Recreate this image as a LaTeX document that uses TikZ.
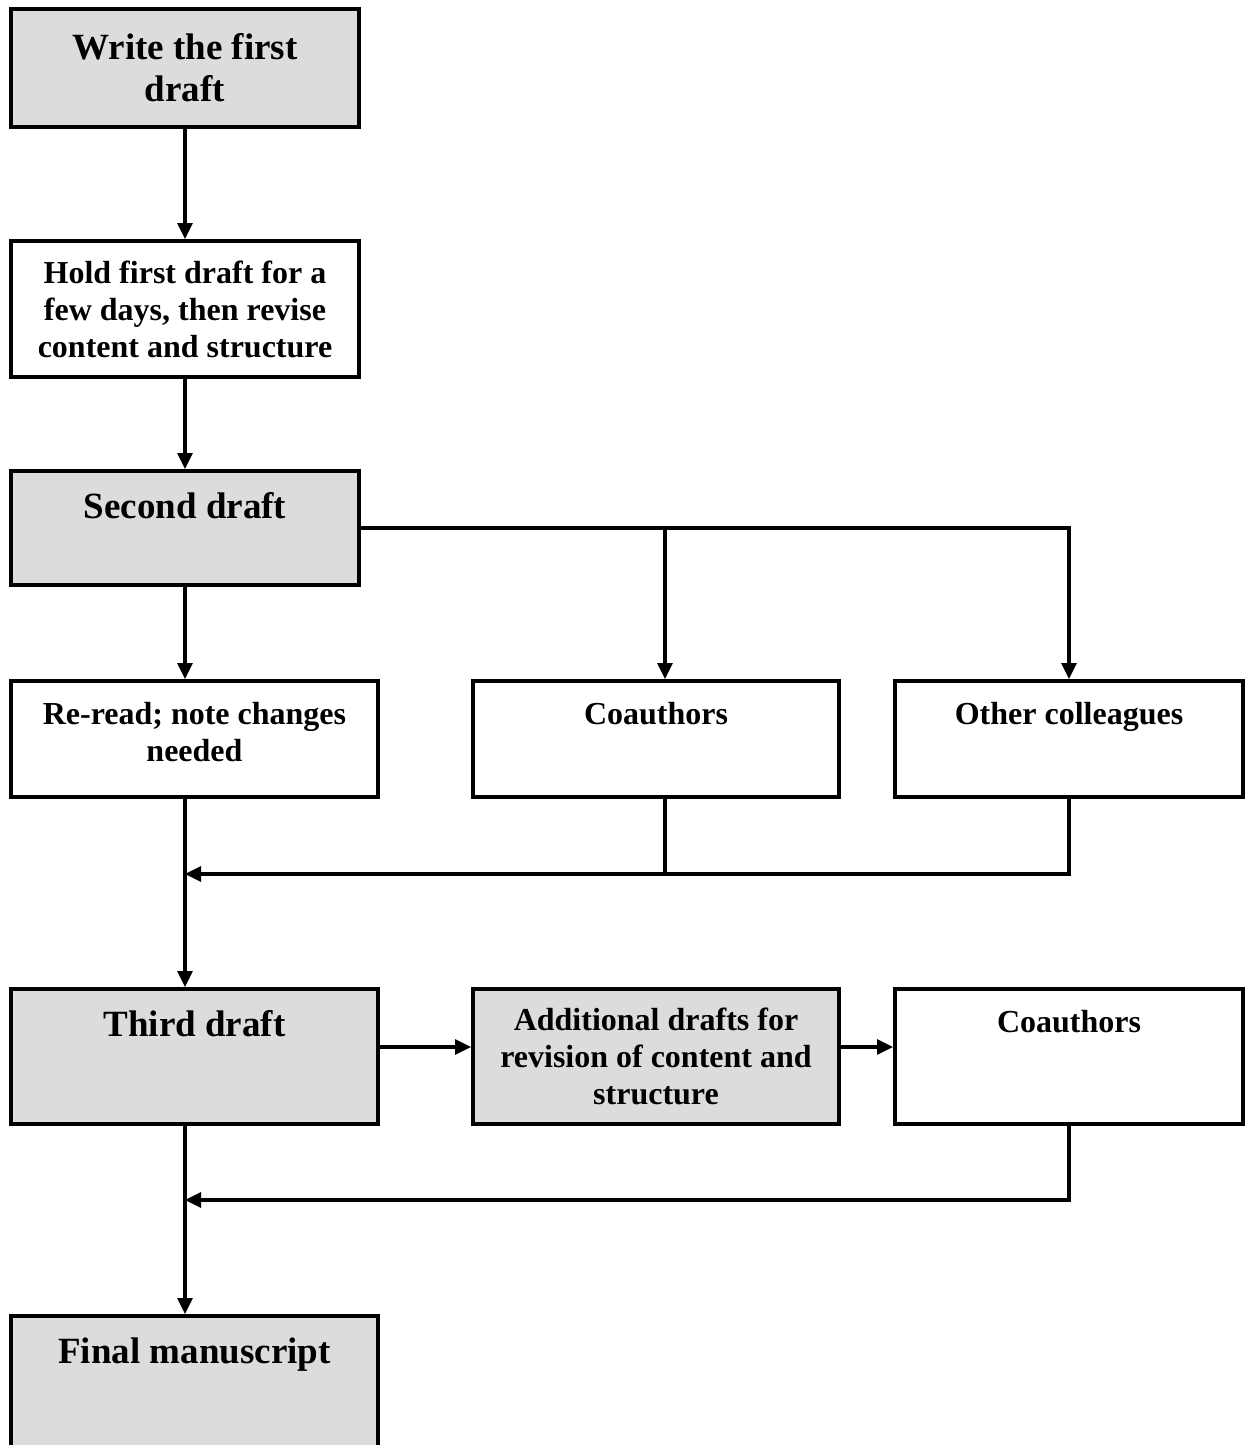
\documentclass[tikz,border=0pt]{standalone}
\usepackage{fontspec}
\setmainfont{Liberation Serif}
\usetikzlibrary{arrows.meta, positioning}

\definecolor{draftgray}{RGB}{220,220,220}
\newcommand{\stagefont}{\bfseries\fontsize{18.5}{21}\selectfont}
\newcommand{\notefont}{\bfseries\fontsize{16}{18.5}\selectfont}

\tikzset{
  box/.style={draw, line width=2pt, inner sep=0pt},
  draftbox/.style={box, fill=draftgray},
  plainbox/.style={box, fill=white},
  toptext/.style={anchor=north, inner sep=0pt, align=center, yshift=-11.5pt},
  flow/.style={line width=1.6pt, -{Triangle[length=8pt, width=7.5pt]}},
  link/.style={line width=1.6pt},
}

\begin{document}
\begin{tikzpicture}[x=0.5pt, y=-0.5pt]
  \useasboundingbox (0,0) rectangle (1249,1445);
  \clip (0,0) rectangle (1249,1445);

  % first and second drafts
  \node[draftbox, minimum width=174pt, minimum height=59pt, font=\stagefont, align=center]
    (write) at (185,68) {Write the first\\draft};
  \node[plainbox, minimum width=174pt, minimum height=68pt, font=\notefont, align=center]
    (hold) at (185,309) {Hold first draft for a\\few days, then revise\\content and structure};
  \node[draftbox, minimum width=174pt, minimum height=57pt,
    label={[toptext, font=\stagefont]north:Second draft}] (second) at (185,528) {};

  % readers of the second draft
  \node[plainbox, minimum width=183.5pt, minimum height=58pt,
    label={[toptext, font=\notefont]north:Re-read; note changes\\needed}] (reread) at (194.5,739) {};
  \node[plainbox, minimum width=183pt, minimum height=58pt,
    label={[toptext, font=\notefont]north:Coauthors}] (coauth) at (656,739) {};
  \node[plainbox, minimum width=174pt, minimum height=58pt,
    label={[toptext, font=\notefont]north:Other colleagues}] (others) at (1069,739) {};

  % third draft row
  \node[draftbox, minimum width=183.5pt, minimum height=67.5pt,
    label={[toptext, font=\stagefont]north:Third draft}] (third) at (194.5,1056.5) {};
  \node[draftbox, minimum width=183pt, minimum height=67.5pt, font=\notefont, align=center]
    (extra) at (656,1056.5) {Additional drafts for\\revision of content and\\structure};
  \node[plainbox, minimum width=174pt, minimum height=67.5pt,
    label={[toptext, font=\notefont]north:Coauthors}] (coauthB) at (1069,1056.5) {};

  % final
  \node[draftbox, minimum width=183.5pt, minimum height=80pt,
    label={[toptext, font=\stagefont]north:Final manuscript}] (final) at (194.5,1396) {};

  \coordinate (split) at (665,528);
  \coordinate (merge) at (185,874);
  \coordinate (row) at (0,1047);
  \coordinate (mergeB) at (185,1200);

  % connectors
  \draw[flow] (write) -- (hold);
  \draw[flow] (hold) -- (second);
  \draw[flow] (second.south) -- (second.south |- reread.north);
  \draw[flow] (second.east) -| (others.north);
  \draw[flow] (split) -- (split |- coauth.north);
  \draw[link] (coauth.south -| split) -- (split |- merge);
  \draw[flow] (others.south) |- (merge);
  \draw[flow] (reread.south -| merge) -- (merge |- third.north);
  \draw[flow] (third.east |- row) -- (extra.west |- row);
  \draw[flow] (extra.east |- row) -- (coauthB.west |- row);
  \draw[flow] (coauthB.south) |- (mergeB);
  \draw[flow] (third.south -| mergeB) -- (mergeB |- final.north);
\end{tikzpicture}
\end{document}
